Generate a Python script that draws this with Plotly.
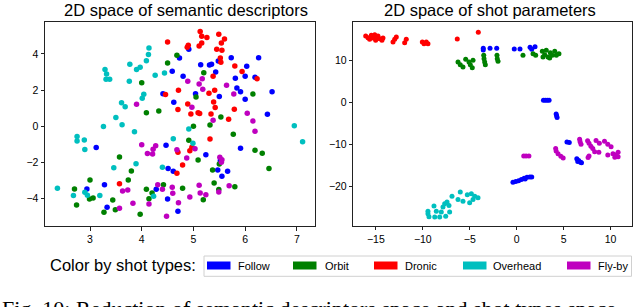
import plotly.graph_objects as go

# ---------------- data: 2D space of semantic descriptors ----------------
sem_follow = [(4.91,4.25),(4.73,3.77),(5.73,3.79),(6.26,3.79),(5.14,3.40),(5.31,3.39),(5.35,3.43),
              (5.48,3.61),(6.03,3.31),(5.43,3.00),(4.80,2.76),(5.81,2.65),(6.00,2.76),(6.19,2.71),
              (5.84,2.12),(5.91,1.90),(6.52,1.90),(5.04,1.80),(5.50,1.64),(6.00,1.49),(6.43,0.66),
              (4.59,3.04),(4.41,1.80),(4.62,1.33),(3.12,-1.18),(4.47,-1.05),(4.51,-2.34),(4.61,-2.49),
              (2.94,-3.46),(3.28,-3.23),(4.28,-3.48),(4.50,-4.02),(3.33,-4.48),(4.70,-4.70),(5.91,-1.22),
              (5.24,-1.57),(5.52,-1.90),(5.47,-2.41),(5.66,-2.49),(5.55,-2.76)]
sem_orbit = [(5.20,2.96),(5.05,1.62),(6.15,1.78),(5.53,0.51),(5.32,0.07),(4.68,3.92),(4.50,3.50),
             (4.00,2.41),(4.09,0.75),(4.33,0.85),(5.00,0.00),(5.77,-0.44),(4.91,-0.77),(5.09,-1.86),
             (5.50,-2.08),(5.37,-2.41),(6.19,-1.33),(6.33,-1.49),(6.46,-2.34),(5.40,-3.13),(5.49,-3.50),
             (5.80,-3.34),(4.79,-3.43),(5.19,-4.06),(3.57,-1.70),(3.80,-2.47),(3.00,-2.97),(3.74,-2.97),
             (2.70,-3.46),(2.99,-4.02),(3.06,-3.96),(3.44,-4.07),(4.09,-3.48),(4.20,-3.69),(4.14,-4.00),
             (4.42,-3.23),(2.74,-4.35),(3.27,-4.75),(3.49,-4.61),(3.97,-4.86)]
sem_dronie = [(5.13,5.23),(5.16,4.97),(5.26,4.90),(5.49,5.08),(5.60,4.82),(5.54,4.60),(5.16,4.60),
              (5.11,4.44),(4.90,4.48),(4.88,4.36),(5.45,4.25),(5.55,4.20),(5.52,3.77),(5.53,3.54),
              (5.80,3.33),(5.94,3.02),(6.23,2.63),(5.38,2.76),(5.30,1.82),(5.41,1.99),(5.39,1.34),
              (5.42,1.03),(4.89,1.23),(4.95,0.68),(5.09,0.75),(5.12,0.71),(5.34,0.68),(5.79,0.94),
              (5.68,0.39),(4.71,1.99),(4.50,4.66),(4.46,1.75),(4.70,0.92),(4.70,-1.43),(4.68,-2.60),
              (3.57,-3.17),(5.32,-0.70),(4.97,-1.16),(4.93,-1.35),(4.79,-2.14)]
sem_overhead = [(4.14,4.33),(4.13,3.96),(4.09,3.62),(3.97,3.26),(3.90,3.13),(3.77,3.43),(3.29,3.13),
                (3.32,2.89),(3.31,2.60),(3.38,2.60),(3.76,2.49),(4.26,2.82),(4.44,2.94),(4.04,1.77),
                (4.01,1.55),(3.61,1.30),(3.68,1.08),(3.50,0.48),(3.62,0.09),(3.26,-0.02),(3.86,-0.30),
                (2.75,-0.57),(2.75,-0.81),(2.89,-0.76),(2.90,-1.29),(4.61,-0.69),(3.46,-2.29),(3.89,-2.07),
                (4.40,-2.27),(2.37,-3.43),(2.68,-3.83),(2.90,-3.65),(2.95,-3.81),(3.19,-3.83),(4.23,-3.87),
                (4.91,-0.15),(6.95,0.03),(7.11,-0.85),(4.99,-0.94)]
sem_flyby = [(4.89,2.49),(5.17,2.63),(5.11,2.34),(5.18,2.04),(5.64,2.27),(5.78,1.78),(4.97,1.05),
             (6.04,0.72),(5.38,0.33),(6.15,0.29),(3.90,1.22),(4.00,-1.02),(4.27,-1.07),(4.22,-1.27),
             (4.11,-1.51),(4.21,-1.53),(4.68,-1.30),(4.31,-3.23),(4.40,-3.48),(4.59,-3.37),(4.60,-3.70),
             (3.73,-3.52),(3.63,-3.57),(3.83,-4.25),(4.14,-4.29),(3.57,-4.53),(4.48,-4.97),(4.71,-4.22),
             (6.19,-0.28),(5.03,-1.24),(4.87,-1.75),(5.51,-1.71),(5.54,-1.99),(5.55,-1.85),(5.11,-3.26),
             (5.69,-3.28),(5.13,-3.69),(5.24,-3.78),(5.49,-3.63),(4.93,-3.91)]

# ---------------- data: 2D space of shot parameters ----------------
shot_follow = [(-3.56,12.89),(-3.56,12.5),(-2.84,12.89),(-2.13,12.89),(-0.26,12.72),(0.35,12.72),
               (1.42,13.13),(1.95,13.27),(1.60,12.65),(2.85,0.5),(3.05,0.5),(3.25,0.5),(3.45,0.5),
               (4.2,-2.8),(4.25,-3.2),(4.3,-3.6),(5.35,-9.5),(5.6,-9.6),(6.4,-13.5),(6.6,-13.9),
               (6.8,-14.3),(6.5,-14.1),(6.9,-14.4),(-0.4,-19.1),(-0.1,-18.9),(0.2,-18.7),(0.5,-18.4),
               (0.8,-18.1),(1.1,-17.9),(1.4,-17.8),(1.6,-17.8),(0.9,-18.3)]
shot_orbit = [(-6.25,9.62),(-6.01,8.97),(-5.72,8.42),(-5.43,10.26),(-5.08,9.62),(-4.94,8.97),
              (-4.73,8.26),(-4.65,10.02),(-3.51,11.22),(-3.48,10.41),(-3.41,9.62),(-3.34,8.97),
              (-2.10,11.22),(-2.07,10.41),(-1.99,9.79),(0.67,11.22),(1.74,11.6),(2.02,11.22),
              (2.73,12.17),(2.98,11.36),(3.15,12.41),(3.33,10.81),(3.58,11.84),(3.79,11.22),
              (4.05,12.17),(4.22,11.22),(4.50,11.6),(2.80,10.81),(3.51,10.57)]
shot_dronie = [(-16.08,15.82),(-15.84,15.42),(-15.66,15.04),(-15.48,15.99),(-15.30,15.35),
               (-15.12,16.13),(-14.95,15.58),(-15.02,14.80),(-14.77,15.82),(-14.59,15.18),
               (-14.35,14.80),(-14.24,15.35),(-13.17,14.39),(-12.99,15.04),(-12.82,15.58),
               (-11.93,14.22),(-11.76,15.04),(-10.05,14.39),(-9.87,13.99),(-9.63,14.39),
               (-9.45,13.99),(-6.33,15.1),(-4.09,16.7)]
shot_overhead = [(-9.45,-26.0),(-9.45,-26.6),(-9.34,-27.3),(-8.81,-24.75),(-8.73,-27.4),(-8.56,-26.0),
                 (-8.20,-27.4),(-8.03,-26.2),(-7.85,-25.0),(-7.67,-24.2),(-7.56,-27.2),(-7.42,-23.8),
                 (-7.21,-24.6),(-7.14,-26.2),(-6.89,-22.4),(-6.25,-23.2),(-6.01,-21.4),(-5.72,-23.6),
                 (-5.26,-22.05),(-5.01,-24.0),(-4.83,-21.8),(-4.47,-22.4),(-4.12,-22.8),(-4.65,-23.2)]
shot_flyby = [(0.75,-12.8),(1.0,-12.8),(1.3,-12.8),(4.15,-11.0),(4.2,-11.6),(4.4,-12.3),(4.7,-12.9),
              (4.95,-13.3),(6.7,-8.8),(6.75,-9.4),(6.85,-10.0),(7.55,-9.2),(7.7,-9.8),(7.9,-10.5),
              (8.1,-11.0),(8.3,-11.8),(8.75,-11.9),(7.6,-13.2),(7.7,-12.8),(8.45,-9.1),(8.8,-9.8),
              (9.35,-9.3),(9.7,-10.0),(10.05,-10.6),(9.7,-12.6),(10.25,-12.3),(10.8,-11.9),
              (10.8,-13.0),(10.45,-13.1),(10.6,-12.5)]

shot_types = ["Follow", "Orbit", "Dronic", "Overhead", "Fly-by"]
colors = ["#0000ff", "#008000", "#ff0000", "#00bfbf", "#bf00bf"]
sem_series = [sem_follow, sem_orbit, sem_dronie, sem_overhead, sem_flyby]
shot_series = [shot_follow, shot_orbit, shot_dronie, shot_overhead, shot_flyby]

sem_xticks = [3, 4, 5, 6, 7]
sem_yticks = [-4, -2, 0, 2, 4]
shot_xticks = [-15, -10, -5, 0, 5, 10]
shot_yticks = [-20, -10, 0, 10]

W, H = 640, 307
def px(p):
    return p / W
def py(p):
    return 1 - p / H

fig = go.Figure()
for name, col, pts in zip(shot_types, colors, sem_series):
    xs, ys = zip(*pts)
    fig.add_trace(go.Scatter(x=xs, y=ys, mode="markers", name=name, showlegend=False,
                             marker=dict(color=col, size=5.5, line=dict(width=0)),
                             xaxis="x", yaxis="y"))
for name, col, pts in zip(shot_types, colors, shot_series):
    xs, ys = zip(*pts)
    fig.add_trace(go.Scatter(x=xs, y=ys, mode="markers", name=name, showlegend=False,
                             marker=dict(color=col, size=5, line=dict(width=0)),
                             xaxis="x2", yaxis="y2"))

tickfont = dict(family="Liberation Sans, Arial, sans-serif", size=10.5, color="#000")
axis_common = dict(showgrid=False, zeroline=False, showline=True, mirror=True,
                   linecolor="#222", linewidth=1, ticks="outside", ticklen=3.5,
                   tickwidth=1, tickcolor="#222", tickfont=tickfont)

fig.update_layout(
    width=W, height=H, margin=dict(l=0, r=0, t=0, b=0),
    paper_bgcolor="white", plot_bgcolor="white", showlegend=False,
    xaxis=dict(domain=[px(45), px(315)], range=[2.13, 7.35], tickvals=sem_xticks,
               anchor="y", **axis_common),
    yaxis=dict(domain=[py(226), py(22)], range=[-5.51, 5.76], tickvals=sem_yticks,
               anchor="x", **axis_common),
    xaxis2=dict(domain=[px(353.3), px(632.3)], range=[-17.40, 12.31], tickvals=shot_xticks,
                anchor="y2", **axis_common),
    yaxis2=dict(domain=[py(225.7), py(22)], range=[-29.45, 19.16], tickvals=shot_yticks,
                anchor="x2", **axis_common),
)

sans = "Liberation Sans, Arial, sans-serif"
ann = []
ann.append(dict(text="2D space of semantic descriptors", x=px(186), y=py(9.5), xref="paper",
                yref="paper", showarrow=False, xanchor="center", yanchor="middle",
                font=dict(family=sans, size=16.5, color="#000")))
ann.append(dict(text="2D space of shot parameters", x=px(490), y=py(9.5), xref="paper",
                yref="paper", showarrow=False, xanchor="center", yanchor="middle",
                font=dict(family=sans, size=16.5, color="#000")))
ann.append(dict(text="Color by shot types:", x=px(48), y=py(264.5), xref="paper", yref="paper",
                showarrow=False, xanchor="left", yanchor="middle",
                font=dict(family=sans, size=16.5, color="#000")))

shapes = [dict(type="rect", xref="paper", yref="paper", x0=px(204), x1=px(631.5),
               y0=py(276.3), y1=py(256), line=dict(color="#d0d0d0", width=1),
               fillcolor="rgba(255,255,255,0.8)", layer="above")]
patch_x = [207, 293, 374, 463, 567]
text_x = [236, 323, 403, 491, 596]
for name, col, p0, t0 in zip(shot_types, colors, patch_x, text_x):
    shapes.append(dict(type="rect", xref="paper", yref="paper", x0=px(p0), x1=px(p0 + 23.5),
                       y0=py(269.5), y1=py(261.5), line=dict(width=0), fillcolor=col,
                       layer="above"))
    ann.append(dict(text=name, x=px(t0), y=py(265.5), xref="paper", yref="paper",
                    showarrow=False, xanchor="left", yanchor="middle",
                    font=dict(family=sans, size=11, color="#000")))

ann.append(dict(text="Fig. 10: Reduction of semantic descriptors space and shot types space",
                x=0, y=py(308.5), xref="paper", yref="paper", showarrow=False,
                xanchor="left", yanchor="middle",
                font=dict(family="Liberation Serif, Times New Roman, serif", size=22, color="#000")))

fig.update_layout(annotations=ann, shapes=shapes)
fig.write_html("out.html", config={"displayModeBar": False},
               post_script="document.body.style.margin='0';document.body.style.padding='0';"
                           "document.documentElement.style.overflow='hidden';")
